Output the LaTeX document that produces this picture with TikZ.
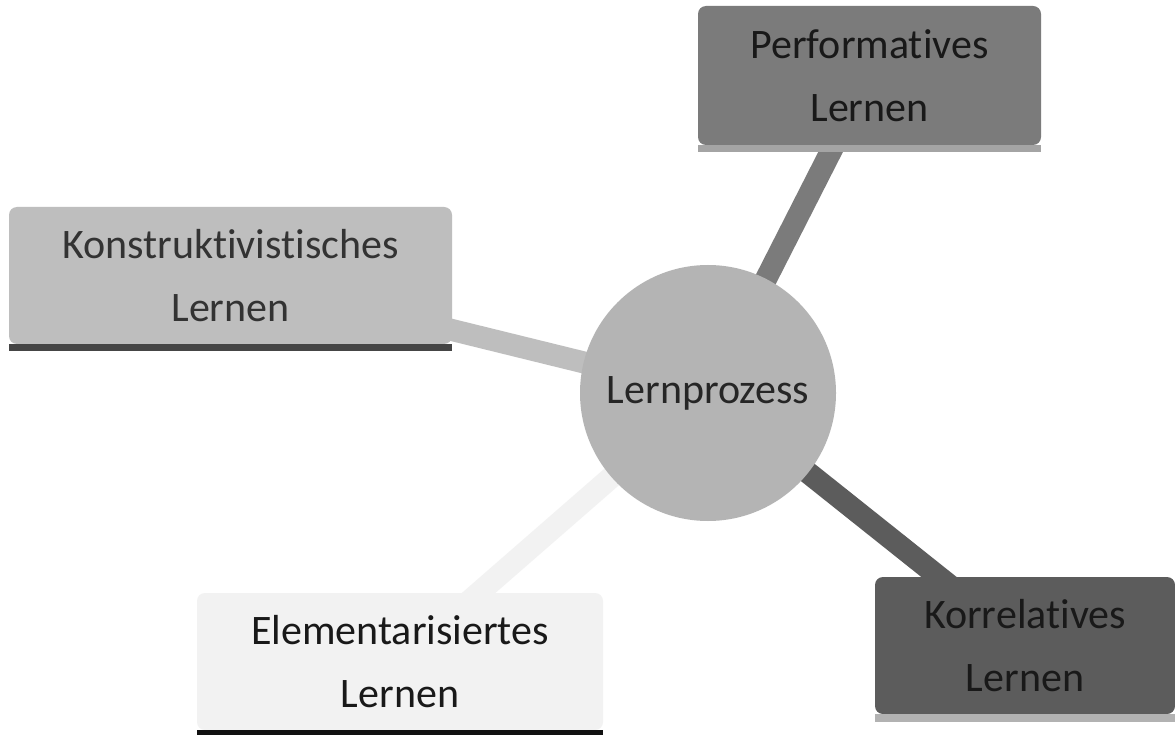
\documentclass[tikz,border=0pt]{standalone}
\usepackage{fontspec}
\setmainfont{Carlito}[Ligatures=NoCommon]
\usetikzlibrary{backgrounds}
\definecolor{hubgray}{HTML}{B4B4B4}
\definecolor{perfgray}{HTML}{7B7B7B}
\definecolor{perfbar}{HTML}{A4A4A4}
\definecolor{konsgray}{HTML}{BEBEBE}
\definecolor{konsbar}{HTML}{454545}
\definecolor{elemgray}{HTML}{F2F2F2}
\definecolor{elembar}{HTML}{111111}
\definecolor{korrgray}{HTML}{5C5C5C}
\definecolor{korrbar}{HTML}{B2B2B2}
\tikzset{
  lbox/.style={rounded corners=8pt, inner sep=0pt, align=center, text=black!90,
    font=\fontsize{42}{63}\selectfont},
  spoke/.style={line width=22pt},
}

\begin{document}
\begin{tikzpicture}[x=1pt,y=-1pt]
		%%%%% START %%%%%
		\useasboundingbox (0,0) rectangle (1175,735);
		
		\node[circle, fill=hubgray, inner sep=0pt, minimum size=256pt, text=black!85,
		  font=\fontsize{42}{63}\selectfont] (hub) at (708,393) {Lernprozess};
		
		\node[lbox, fill=perfgray, minimum width=343pt, minimum height=139pt] (perf) at (869.5,75.5) {Performatives\\Lernen};
		\fill[perfbar] (perf.south west) rectangle ([yshift=-7pt]perf.south east);
		
		\node[lbox, fill=konsgray, text=black!80, minimum width=443pt, minimum height=137pt] (kons) at (230.5,275.5) {Konstruktivistisches\\Lernen};
		\fill[konsbar] (kons.south west) rectangle ([yshift=-7pt]kons.south east);
		
		\node[lbox, fill=elemgray, minimum width=406pt, minimum height=137pt] (elem) at (400,661.5) {Elementarisiertes\\Lernen};
		\fill[elembar] (elem.south west) rectangle ([yshift=-6pt]elem.south east);
		
		\node[lbox, fill=korrgray, minimum width=300pt, minimum height=137pt] (korr) at (1025,645.5) {Korrelatives\\Lernen};
		\fill[korrbar] (korr.south west) rectangle ([yshift=-8pt]korr.south east);
		
		\begin{scope}[on background layer]
		\fill[white] (0,0) rectangle (1175,735);
		\draw[spoke, perfgray] (hub.center) -- (perf.center);
		\draw[spoke, konsgray] (hub.center) -- (kons.center);
		\draw[spoke, elemgray] (hub.center) -- (elem.center);
		\draw[spoke, korrgray] (hub.center) -- (korr.center);
		\end{scope}
		%%%%% END %%%%%
\end{tikzpicture}
\end{document}
